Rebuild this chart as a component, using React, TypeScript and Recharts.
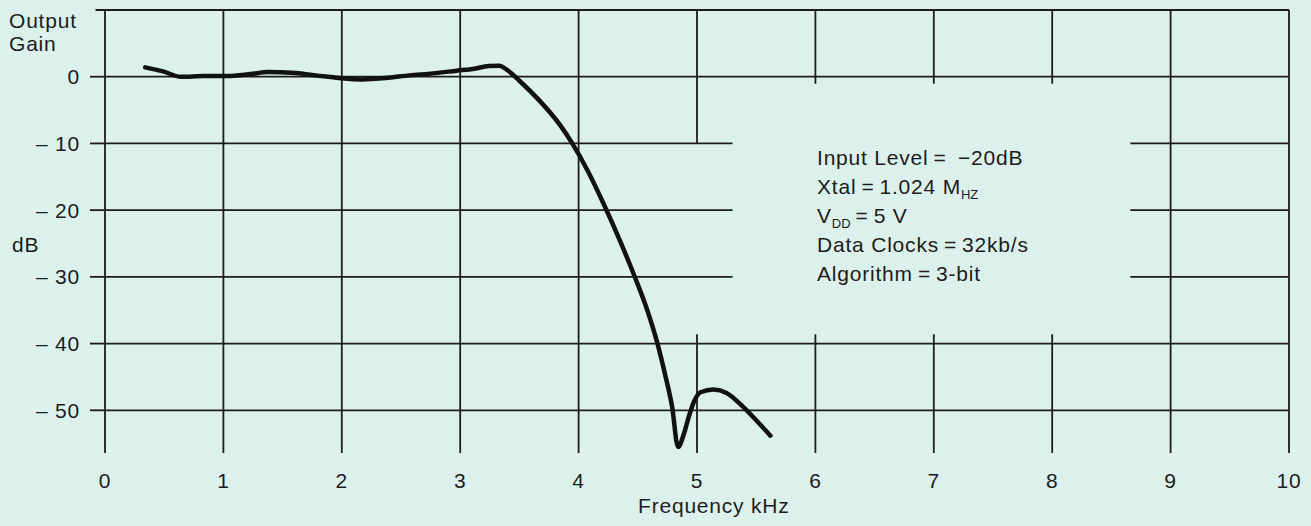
import { LineChart, Line, XAxis, YAxis, ReferenceLine } from "recharts";

// frequency response (kHz, dB)
const freqKHz = [
  0.34, 0.49, 0.64, 0.84, 1.03, 1.23, 1.38, 1.58, 1.78, 1.98, 2.17, 2.37,
  2.57, 2.77, 2.97, 3.12, 3.24, 3.33, 3.39, 3.5, 3.66, 3.85, 3.94, 4.08,
  4.21, 4.35, 4.47, 4.58, 4.66, 4.73, 4.79, 4.84, 4.89, 4.93, 4.98, 5.03,
  5.14, 5.25, 5.39, 5.5, 5.62,
];
const gainDb = [
  1.4, 0.8, 0.0, 0.1, 0.1, 0.4, 0.7, 0.6, 0.2, -0.2, -0.4, -0.2, 0.2, 0.5,
  0.9, 1.2, 1.6, 1.65, 1.1, -0.6, -3.4, -7.4, -9.8, -14.2, -19.0, -24.6,
  -29.8, -35.0, -39.6, -44.6, -49.5, -55.5, -53.5, -51.0, -48.5, -47.3,
  -46.9, -47.4, -49.5, -51.5, -53.8,
];

const xTicks = [0, 1, 2, 3, 4, 5, 6, 7, 8, 9, 10];
const yTicks = [0, -10, -20, -30, -40, -50];
const yMin = -56.4;
const yMax = 10;

// grid segments in data units; gaps leave room for the annotation block
const hGrid = [
  { y: 10, from: -0.08, to: 10 },
  { y: 0, from: 0, to: 10 },
  { y: -10, from: 0, to: 5.3 },
  { y: -10, from: 8.66, to: 10 },
  { y: -20, from: 0, to: 5.3 },
  { y: -20, from: 8.66, to: 10 },
  { y: -30, from: 0, to: 5.3 },
  { y: -30, from: 8.66, to: 10 },
  { y: -40, from: 0, to: 10 },
  { y: -50, from: 0, to: 10 },
];
const vGrid = [
  { x: 0, from: yMax, to: yMin },
  { x: 1, from: yMax, to: yMin },
  { x: 2, from: yMax, to: yMin },
  { x: 3, from: yMax, to: yMin },
  { x: 4, from: yMax, to: yMin },
  { x: 5, from: yMax, to: -10 },
  { x: 5, from: -38.6, to: yMin },
  { x: 6, from: yMax, to: -1.05 },
  { x: 6, from: -38.6, to: yMin },
  { x: 7, from: yMax, to: -1.05 },
  { x: 7, from: -38.6, to: yMin },
  { x: 8, from: yMax, to: -1.05 },
  { x: 8, from: -38.6, to: yMin },
  { x: 9, from: yMax, to: yMin },
  { x: 10, from: yMax, to: yMin },
];

const data = freqKHz.map((f, i) => ({ f, g: gainDb[i] }));

const font = "'Liberation Sans', Arial, Helvetica, sans-serif";
const ink = "#1c1c1c";
const tickStyle = { fill: ink, fontSize: 21, fontFamily: font, letterSpacing: 0.8 };

const fmtY = (v: number) => (v === 0 ? "0" : `\u2013 ${Math.abs(v)}`);

const sub = { fontSize: 13, verticalAlign: "-0.35em", lineHeight: 0, letterSpacing: 0 };

export default function App() {
  return (
    <div
      style={{
        position: "absolute",
        left: 0,
        top: 0,
        width: 1311,
        height: 526,
        background: "#ddf1ec",
        fontFamily: font,
        color: ink,
        fontSize: 21,
        letterSpacing: 0.8,
      }}
    >
      <LineChart
        width={1311}
        height={526}
        data={data}
        margin={{ top: 10, right: 22, bottom: 23, left: 0 }}
      >
        <XAxis
          type="number"
          dataKey="f"
          domain={[0, 10]}
          ticks={xTicks}
          height={50}
          axisLine={false}
          tickLine={false}
          tickSize={0}
          tickMargin={20}
          tick={tickStyle}
          allowDataOverflow
        />
        <YAxis
          type="number"
          domain={[yMin, yMax]}
          ticks={yTicks}
          width={105}
          axisLine={false}
          tickLine={{ stroke: ink, strokeWidth: 1.8 }}
          tickSize={15}
          tickMargin={10}
          tick={tickStyle}
          tickFormatter={fmtY}
          allowDataOverflow
        />
        {hGrid.map((s, i) => (
          <ReferenceLine
            key={`h${i}`}
            segment={[
              { x: s.from, y: s.y },
              { x: s.to, y: s.y },
            ]}
            stroke={ink}
            strokeWidth={1.8}
            ifOverflow="visible"
          />
        ))}
        {vGrid.map((s, i) => (
          <ReferenceLine
            key={`v${i}`}
            segment={[
              { x: s.x, y: s.from },
              { x: s.x, y: s.to },
            ]}
            stroke={ink}
            strokeWidth={1.8}
            ifOverflow="visible"
          />
        ))}
        <Line
          type="monotone"
          dataKey="g"
          stroke="#111"
          strokeWidth={4.5}
          strokeLinecap="round"
          strokeLinejoin="round"
          dot={false}
          activeDot={false}
          isAnimationActive={false}
        />
      </LineChart>

      <div style={{ position: "absolute", left: 9, top: 9, lineHeight: "23px" }}>
        Output
        <br />
        Gain
      </div>
      <div style={{ position: "absolute", left: 12, top: 233, lineHeight: "23px" }}>dB</div>
      <div style={{ position: "absolute", left: 638, top: 494, lineHeight: "23px" }}>
        Frequency kHz
      </div>
      <div style={{ position: "absolute", left: 817, top: 143, lineHeight: "29px" }}>
        <div>Input Level{"\u2009=\u2002\u2212"}20dB</div>
        <div>
          Xtal{"\u2009=\u2009"}1.024 M<span style={sub}>HZ</span>
        </div>
        <div>
          V<span style={sub}>DD</span>
          {"\u2009=\u2009"}5 V
        </div>
        <div>Data Clocks{"\u2009=\u2009"}32kb/s</div>
        <div>Algorithm{"\u2009=\u2009"}3-bit</div>
      </div>
    </div>
  );
}
